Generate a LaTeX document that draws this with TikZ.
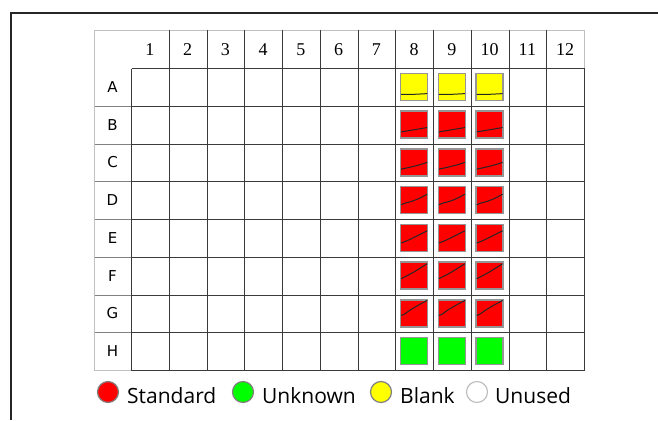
\documentclass[tikz,border=0pt]{standalone}
\usepackage{fontspec}
\setmainfont{Liberation Serif}
\newfontfamily\letterfont{DejaVu Sans}
\newfontfamily\legendfont{Open Sans}
\definecolor{darkgrid}{HTML}{3A3A3A}
\definecolor{midgrid}{HTML}{808080}
\definecolor{lightgrid}{HTML}{C0C0C0}
\definecolor{wellborder}{HTML}{959595}
\definecolor{wred}{HTML}{FF0000}
\definecolor{wgreen}{HTML}{00FF00}
\definecolor{wyellow}{HTML}{FFFF00}
\tikzset{
  frameline/.style={draw=black!85, line width=1.3pt},
  darkline/.style={draw=darkgrid, line width=1.1pt},
  midline/.style={draw=midgrid, line width=1pt},
  lightline/.style={draw=lightgrid, line width=1pt},
  well/.style={draw=wellborder, line width=1.4pt},
  curveline/.style={draw=black!85, line width=1pt},
  colnum/.style={font=\fontsize{18}{18}\selectfont, anchor=center},
  rowlet/.style={font=\letterfont\fontsize{15}{15}\selectfont, anchor=center},
  legdot/.style={circle, minimum size=21pt, inner sep=0pt, draw=midgrid, line width=1.2pt},
  legtext/.style={font=\legendfont\fontsize{21}{21}\selectfont, anchor=base west, inner sep=0pt}
}
\begin{document}
\begin{tikzpicture}[x=1pt,y=-1pt]
\useasboundingbox (0,0) rectangle (658,420);
% outer frame
\draw[frameline] (658,13) -- (11,13) -- (11,420);
% table outer (light)
\draw[lightline] (94.5,30.5) rectangle (584.5,370.5);
% header row vertical separators
\foreach \i in {1,...,11}{
  \pgfmathsetmacro{\xx}{round(131+\i*37.75)+0.5}
  \draw[darkline] (\xx,30.5) -- (\xx,68.5);
}
% header column horizontal separators
\foreach \j in {1,...,7}{
  \pgfmathsetmacro{\yy}{round(68+\j*37.75)+0.5}
  \draw[midline] (94.5,\yy) -- (131.5,\yy);
}
% data grid
\foreach \i in {0,...,12}{
  \pgfmathsetmacro{\xx}{round(131+\i*37.75)+0.5}
  \draw[darkline] (\xx,68.5) -- (\xx,370.5);
}
\foreach \j in {0,...,8}{
  \pgfmathsetmacro{\yy}{round(68+\j*37.75)+0.5}
  \draw[darkline] (131.5,\yy) -- (584.5,\yy);
}
% column numbers
\foreach \i in {1,...,12} \node[colnum] (c\i) at (131+\i*37.75-18.875,49.5) {\i};
% row letters
\foreach \r [count=\j] in {A,B,C,D,E,F,G,H} \node[rowlet] (r\r) at (112.5,68+\j*37.75-18.875) {\r};
% wells
\foreach \c in {8,9,10}{
  \foreach \j/\col in {1/wyellow,2/wred,3/wred,4/wred,5/wred,6/wred,7/wred,8/wgreen}{
    \pgfmathsetmacro{\cx}{131+(\c-0.5)*37.75}
    \pgfmathsetmacro{\cy}{68+(\j-0.5)*37.75}
    \draw[well, fill=\col] (\cx-13.5,\cy-13.5) rectangle (\cx+13.5,\cy+13.5);
  }
  \pgfmathsetmacro{\cx}{131+(\c-0.5)*37.75-13.5}
  \begin{scope}[shift={(\cx,68+0.5*37.75+13.5)}, x=27pt, y=27pt]
    \draw[curveline] plot[smooth] coordinates {(0.02,0.22) (0.5,0.225) (0.98,0.25)};
  \end{scope}
  \begin{scope}[shift={(\cx,68+1.5*37.75+13.5)}, x=27pt, y=27pt]
    \draw[curveline] plot[smooth] coordinates {(0.02,0.23) (0.5,0.31) (0.98,0.39)};
  \end{scope}
  \begin{scope}[shift={(\cx,68+2.5*37.75+13.5)}, x=27pt, y=27pt]
    \draw[curveline] plot[smooth] coordinates {(0.02,0.25) (0.3,0.31) (0.7,0.41) (0.98,0.5)};
  \end{scope}
  \begin{scope}[shift={(\cx,68+3.5*37.75+13.5)}, x=27pt, y=27pt]
    \draw[curveline] plot[smooth] coordinates {(0.02,0.33) (0.2,0.40) (0.4,0.45) (0.7,0.57) (0.98,0.72)};
  \end{scope}
  \begin{scope}[shift={(\cx,68+4.5*37.75+13.5)}, x=27pt, y=27pt]
    \draw[curveline] plot[smooth] coordinates {(0.02,0.31) (0.25,0.40) (0.5,0.52) (0.98,0.76)};
  \end{scope}
  \begin{scope}[shift={(\cx,68+5.5*37.75+13.5)}, x=27pt, y=27pt]
    \draw[curveline] plot[smooth] coordinates {(0.02,0.39) (0.15,0.45) (0.5,0.64) (0.98,0.94)};
  \end{scope}
  \begin{scope}[shift={(\cx,68+6.5*37.75+13.5)}, x=27pt, y=27pt]
    \draw[curveline] plot[smooth] coordinates {(0.02,0.43) (0.12,0.46) (0.35,0.62) (0.65,0.80) (0.98,0.98)};
  \end{scope}
}
% legend
\node[legdot, fill=wred] (lstd) at (108,392) {};
\node[legtext] (tstd) at (127,403) {Standard};
\node[legdot, fill=wgreen] (lunk) at (243,392) {};
\node[legtext] (tunk) at (262,403) {Unknown};
\node[legdot, fill=wyellow] (lbl) at (381,392) {};
\node[legtext] (tbl) at (400,403) {Blank};
\node[legdot, fill=white, draw=lightgrid] (lun) at (477,392) {};
\node[legtext] (tun) at (495,403) {Unused};
\end{tikzpicture}
\end{document}
